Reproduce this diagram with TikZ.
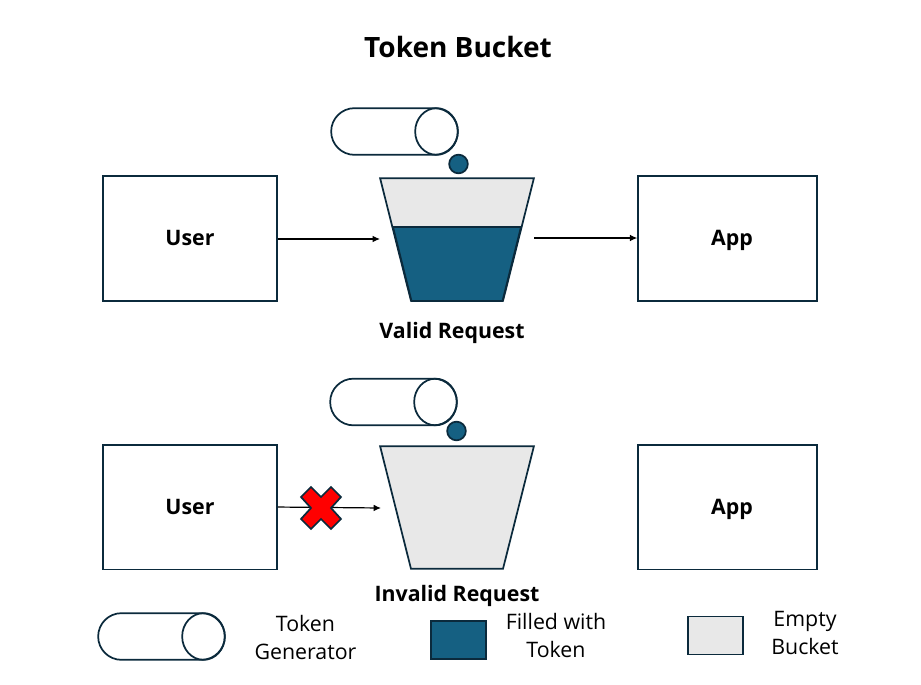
\documentclass[tikz,border=0pt]{standalone}
\usepackage{fontspec}
\setmainfont{Open Sans}
\usetikzlibrary{positioning,shapes.geometric,shapes.misc,arrows.meta}
\definecolor{linecolor}{HTML}{0B2A3C}
\definecolor{tokencolor}{HTML}{156082}
\definecolor{bucketcolor}{HTML}{E8E8E8}
\newcommand{\bucketbody}{\phantom{\rule{69pt}{92pt}}}
\tikzset{
    box/.style={rectangle,draw=linecolor,line width=1.3pt,minimum width=130.5pt,minimum height=93.5pt,inner sep=0pt,text height=10.5pt,text depth=0pt,font=\fontsize{16}{19}\selectfont\bfseries},
    appbox/.style={box,minimum width=134pt},
    bucket/.style={trapezium,shape border rotate=180,trapezium angle=75.85,draw=linecolor,line width=1.3pt,fill=bucketcolor,inner sep=0pt},
    genbody/.style={rounded rectangle,draw=linecolor,line width=1.3pt,minimum width=95pt,minimum height=35pt,inner sep=0pt},
    genend/.style={ellipse,draw=linecolor,line width=1.3pt,minimum width=32pt,minimum height=35pt,inner sep=0pt,anchor=east},
    token/.style={circle,draw=linecolor,line width=1.3pt,fill=tokencolor,minimum size=14pt,inner sep=0pt},
    swatch/.style={rectangle,draw=linecolor,line width=1.3pt,inner sep=0pt},
    caption/.style={font=\fontsize{16}{19}\selectfont\bfseries},
    legend/.style={align=center,font=\fontsize{16}{21}\selectfont},
    pil/.style={-{Latex[length=5.5pt,width=5pt]},line width=0.9pt,black}
}
\begin{document}
\begin{tikzpicture}[x=0.75pt,y=-0.75pt,node distance=201.4pt]
    \useasboundingbox (0,0) rectangle (921,685);
    % Title
    \node (title) [font=\fontsize{21}{25}\selectfont\bfseries] at (458,47) {Token Bucket};
    % Valid row
    \node (userA) [box] at (190,238.5) {User};
    \node (appA) [appbox] at (727.5,238.5) {\hspace*{6.75pt}App};
    \node (bucketA) [bucket] at (457,239.5) {\bucketbody};
    \fill [tokencolor,draw=linecolor,line width=1.3pt] (393,227) -- (521,227) -- (502.5,301) -- (411.5,301) -- cycle;
    \node (genA) [genbody] at (394.5,131.5) {};
    \node (genendA) [genend] at (genA.east) {};
    \node (tokenA) [token] at (458.5,164) {};
    \node (labelA) [caption] at (452,332.5) {Valid Request};
    \coordinate (inA) at (380,239);
    \coordinate (outA) at (534,238);
    \draw [pil] (userA.east |- inA) -- (inA);
    \draw [pil] (outA) -- (appA.west |- outA);
    % Invalid row
    \node (userB) [box,below of=userA] {User};
    \node (appB) [appbox,below of=appA] {\hspace*{6.75pt}App};
    \node (bucketB) [bucket] at (457,507.5) {\bucketbody};
    \node (genB) [genbody] at (393.5,402) {};
    \node (genendB) [genend] at (genB.east) {};
    \node (tokenB) [token] at (456.5,431) {};
    \node (labelB) [caption] at (457,595.5) {Invalid Request};
    \coordinate (inB) at (381,508);
    \draw [pil] (userB.east) -- (inB);
    \draw [draw=linecolor,line width=1.3pt,fill=red,shift={(321,508)}] (0,-11) -- (10,-21) -- (20,-11) -- (10,0) -- (20,11) -- (10,21) -- (0,11) -- (-10,21) -- (-20,11) -- (-10,0) -- (-20,-11) -- (-10,-21) -- cycle;
    % Legend
    \node (genC) [genbody] at (161.5,636.5) {};
    \node (genendC) [genend] at (genC.east) {};
    \node (legendgen) [legend] at (305.5,637) {Token\\Generator};
    \node (swatchfull) [swatch,fill=tokencolor,minimum width=41.5pt,minimum height=28.5pt] at (458.5,640) {};
    \node (legendfull) [legend] at (556,635) {Filled with\\Token};
    \node (swatchempty) [swatch,fill=bucketcolor,minimum width=41pt,minimum height=28.5pt] at (715.5,635.5) {};
    \node (legendempty) [legend] at (805,633) {Empty\\Bucket};
\end{tikzpicture}
\end{document}
